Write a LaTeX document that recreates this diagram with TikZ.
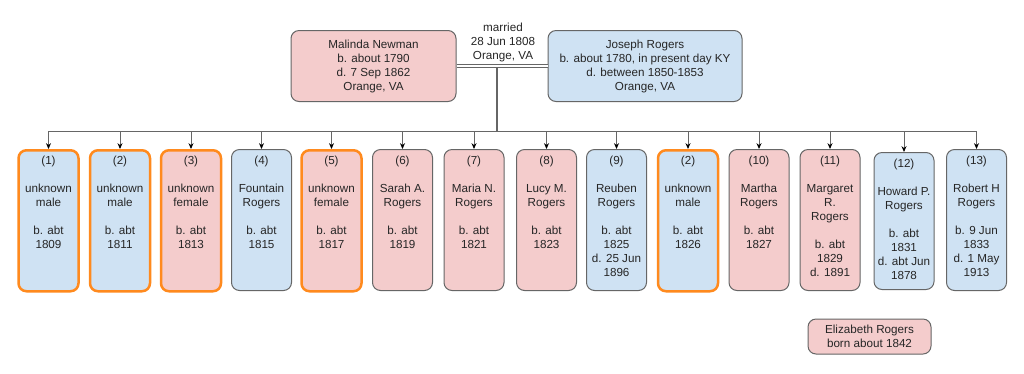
\documentclass[tikz,border=0pt]{standalone}
\usepackage{fontspec}
\setmainfont{Liberation Sans}
\usetikzlibrary{arrows.meta}
\definecolor{girl}{HTML}{F4CCCC}
\definecolor{boy}{HTML}{CFE2F3}
\definecolor{edge}{HTML}{666666}
\definecolor{unsure}{HTML}{FF8A1E}

\begin{document}
\begin{tikzpicture}[x=0.6pt, y=-0.6pt,
  every node/.style={font=\fontsize{7}{8.4}\selectfont, align=center, text=black!85},
  person/.style={draw=edge, line width=0.6pt, rounded corners=4.8pt},
  kid/.style={person, minimum width=36pt, minimum height=84.6pt, anchor=north, inner sep=0pt},
  boy/.style={fill=boy},
  girl/.style={fill=girl},
  unknown/.style={draw=unsure, line width=1.5pt},
  words/.style={anchor=north, inner sep=0pt},
  link/.style={draw=edge, line width=0.6pt}]
\fill[white] (0,0) rectangle (1024,373);

\node (wife) at (373.5,66) [person, girl, minimum width=99pt, minimum height=42.6pt] {Malinda Newman\\b. about 1790\\d. 7 Sep 1862\\Orange, VA};
\node (husband) at (645,66) [person, boy, minimum width=116.4pt, minimum height=42.6pt] {Joseph Rogers\\b. about 1780, in present day KY\\d. between 1850-1853\\Orange, VA};
\node (vows) at (503,42) {married\\28 Jun 1808\\Orange, VA};
\draw[link, double=white, double distance=1.2pt] (wife) -- (husband);
\coordinate (wed) at (497,68);
\coordinate (bus) at (497,131);
\draw[link, line width=1.2pt] (wed) -- (bus);

\node (c1) at (48.5,149) [kid, boy, unknown] {};
\node (t1) at ([yshift=-4.2pt]c1.north) [words] {(1)\\[8.4pt]unknown\\male\\[8.4pt]b. abt\\1809};
\node (c2) at (120,149) [kid, boy, unknown] {};
\node (t2) at ([yshift=-4.2pt]c2.north) [words] {(2)\\[8.4pt]unknown\\male\\[8.4pt]b. abt\\1811};
\node (c3) at (191,149) [kid, girl, unknown] {};
\node (t3) at ([yshift=-4.2pt]c3.north) [words] {(3)\\[8.4pt]unknown\\female\\[8.4pt]b. abt\\1813};
\node (c4) at (261.5,149) [kid, boy] {};
\node (t4) at ([yshift=-4.2pt]c4.north) [words] {(4)\\[8.4pt]Fountain\\Rogers\\[8.4pt]b. abt\\1815};
\node (c5) at (331.5,149) [kid, girl, unknown] {};
\node (t5) at ([yshift=-4.2pt]c5.north) [words] {(5)\\[8.4pt]unknown\\female\\[8.4pt]b. abt\\1817};
\node (c6) at (402.5,149) [kid, girl] {};
\node (t6) at ([yshift=-4.2pt]c6.north) [words] {(6)\\[8.4pt]Sarah A.\\Rogers\\[8.4pt]b. abt\\1819};
\node (c7) at (474,149) [kid, girl] {};
\node (t7) at ([yshift=-4.2pt]c7.north) [words] {(7)\\[8.4pt]Maria N.\\Rogers\\[8.4pt]b. abt\\1821};
\node (c8) at (546.5,149) [kid, girl] {};
\node (t8) at ([yshift=-4.2pt]c8.north) [words] {(8)\\[8.4pt]Lucy M.\\Rogers\\[8.4pt]b. abt\\1823};
\node (c9) at (616.5,149) [kid, boy] {};
\node (t9) at ([yshift=-4.2pt]c9.north) [words] {(9)\\[8.4pt]Reuben\\Rogers\\[8.4pt]b. abt\\1825\\d. 25 Jun\\1896};
\node (c10) at (688,149) [kid, boy, unknown] {};
\node (t10) at ([yshift=-4.2pt]c10.north) [words] {(2)\\[8.4pt]unknown\\male\\[8.4pt]b. abt\\1826};
\node (c11) at (759,149) [kid, girl] {};
\node (t11) at ([yshift=-4.2pt]c11.north) [words] {(10)\\[8.4pt]Martha\\Rogers\\[8.4pt]b. abt\\1827};
\node (c12) at (830,149) [kid, girl] {};
\node (t12) at ([yshift=-4.2pt]c12.north) [words] {(11)\\[8.4pt]Margaret\\R.\\Rogers\\[8.4pt]b. abt\\1829\\d. 1891};
\node (c13) at (904,152) [kid, boy, minimum height=82.2pt] {};
\node (t13) at ([yshift=-4.2pt]c13.north) [words] {(12)\\[8.4pt]Howard P.\\Rogers\\[8.4pt]b. abt\\1831\\d. abt Jun\\1878};
\node (c14) at (976.5,149) [kid, boy] {};
\node (t14) at ([yshift=-4.2pt]c14.north) [words] {(13)\\[8.4pt]Robert H\\Rogers\\[8.4pt]b. 9 Jun\\1833\\d. 1 May\\1913};

\draw[link] (c1.north |- bus) -- (c14.north |- bus);
\foreach \i in {1,...,14}
  \draw[link, -{Stealth[length=3.5pt, width=3pt, black]}] (c\i.north |- bus) -- (c\i.north);

\node (liz) at (869.5,336.5) [person, girl, minimum width=73.8pt, minimum height=21pt] {Elizabeth Rogers\\born about 1842};
\end{tikzpicture}
\end{document}
